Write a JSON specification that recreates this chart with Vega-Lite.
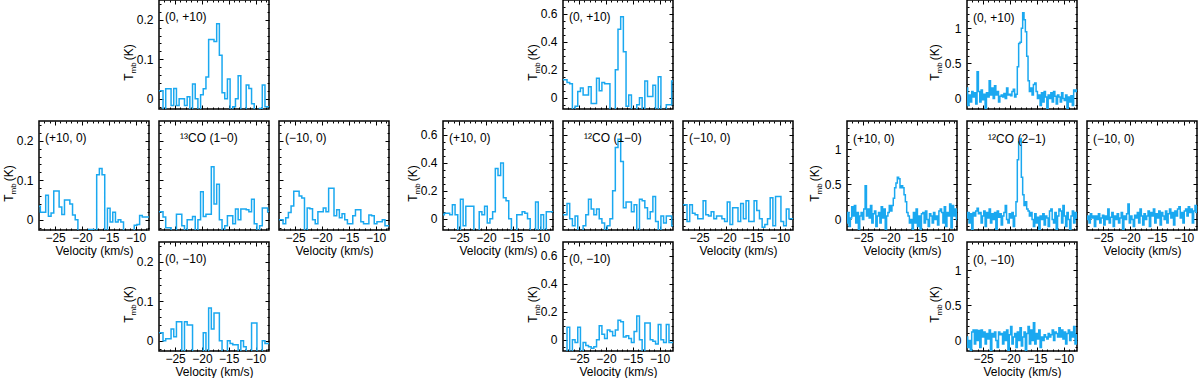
{
"$schema":"https://vega.github.io/schema/vega-lite/v6.json",
"padding":{"left":1,"top":-2,"right":0,"bottom":0},
"config":{"view":{"stroke":"black","strokeWidth":1.5},
"axis":{"grid":false,"domain":false,"tickColor":"black","tickWidth":1,"labelFont":"Liberation Sans","labelFontSize":12,"labelColor":"black","titleFont":"Liberation Sans","titleFontSize":12,"titleFontWeight":"normal","titleColor":"black","labelFlush":false,"labelOverlap":false},
"text":{"font":"Liberation Sans","fontSize":12,"color":"black"}},
"datasets":{
"a1":[{"v":-28,"t":0.02},{"v":-27.5,"t":0.02},{"v":-27,"t":-0.04},{"v":-26.5,"t":0.025},{"v":-26,"t":0.025},{"v":-25.5,"t":-0.017},{"v":-25,"t":0.026},{"v":-24.5,"t":-0.017},{"v":-24,"t":0},{"v":-23.5,"t":0},{"v":-23,"t":-0.017},{"v":-22.5,"t":0.005},{"v":-22,"t":-0.04},{"v":-21.5,"t":0.037},{"v":-21,"t":0},{"v":-20.5,"t":-0.04},{"v":-20,"t":0.01},{"v":-19.5,"t":0.025},{"v":-19,"t":0.055},{"v":-18.5,"t":0.15},{"v":-18,"t":0.15},{"v":-17.5,"t":0.145},{"v":-17,"t":0.19},{"v":-16.5,"t":0.11},{"v":-16,"t":0.015},{"v":-15.5,"t":0},{"v":-15,"t":0.05},{"v":-14.5,"t":-0.04},{"v":-14,"t":-0.02},{"v":-13.5,"t":0},{"v":-13,"t":0.058},{"v":-12.5,"t":-0.04},{"v":-12,"t":-0.04},{"v":-11.5,"t":0.035},{"v":-11,"t":0.026},{"v":-10.5,"t":-0.013},{"v":-10,"t":-0.04},{"v":-9.5,"t":-0.04},{"v":-9,"t":-0.025},{"v":-8.5,"t":0.035},{"v":-8,"t":-0.02},{"v":-7.5,"t":-0.02}],
"a2":[{"v":-28,"t":0.034},{"v":-27.5,"t":0.019},{"v":-27,"t":0.019},{"v":-26.5,"t":0.062},{"v":-26,"t":0.009},{"v":-25.5,"t":0.017},{"v":-25,"t":0.073},{"v":-24.5,"t":0.073},{"v":-24,"t":0.032},{"v":-23.5,"t":0.013},{"v":-23,"t":0.05},{"v":-22.5,"t":0.05},{"v":-22,"t":0.04},{"v":-21.5,"t":0.012},{"v":-21,"t":0},{"v":-20.5,"t":-0.04},{"v":-20,"t":-0.04},{"v":-19.5,"t":-0.04},{"v":-19,"t":-0.04},{"v":-18.5,"t":-0.025},{"v":-18,"t":-0.025},{"v":-17.5,"t":-0.04},{"v":-17,"t":0.114},{"v":-16.5,"t":0.13},{"v":-16,"t":0.114},{"v":-15.5,"t":-0.04},{"v":-15,"t":0.029},{"v":-14.5,"t":-0.006},{"v":-14,"t":0.019},{"v":-13.5,"t":-0.006},{"v":-13,"t":0},{"v":-12.5,"t":-0.006},{"v":-12,"t":-0.04},{"v":-11.5,"t":-0.04},{"v":-11,"t":-0.04},{"v":-10.5,"t":-0.04},{"v":-10,"t":-0.014},{"v":-9.5,"t":-0.012},{"v":-9,"t":0.011},{"v":-8.5,"t":0.007},{"v":-8,"t":0.007},{"v":-7.5,"t":0.007}],
"a3":[{"v":-28,"t":0.02},{"v":-27.5,"t":0.02},{"v":-27,"t":0.007},{"v":-26.5,"t":-0.02},{"v":-26,"t":-0.02},{"v":-25.5,"t":-0.04},{"v":-25,"t":-0.04},{"v":-24.5,"t":0.014},{"v":-24,"t":0.014},{"v":-23.5,"t":-0.015},{"v":-23,"t":-0.04},{"v":-22.5,"t":0},{"v":-22,"t":0},{"v":-21.5,"t":0.008},{"v":-21,"t":-0.04},{"v":-20.5,"t":0},{"v":-20,"t":0.071},{"v":-19.5,"t":0.008},{"v":-19,"t":0.014},{"v":-18.5,"t":0.014},{"v":-18,"t":0.134},{"v":-17.5,"t":0.04},{"v":-17,"t":0.09},{"v":-16.5,"t":0},{"v":-16,"t":-0.04},{"v":-15.5,"t":-0.015},{"v":-15,"t":0.01},{"v":-14.5,"t":0.01},{"v":-14,"t":-0.01},{"v":-13.5,"t":0.027},{"v":-13,"t":0},{"v":-12.5,"t":0.027},{"v":-12,"t":0.027},{"v":-11.5,"t":0.025},{"v":-11,"t":0.02},{"v":-10.5,"t":0.052},{"v":-10,"t":-0.01},{"v":-9.5,"t":-0.04},{"v":-9,"t":-0.015},{"v":-8.5,"t":0.03},{"v":-8,"t":0.03},{"v":-7.5,"t":0.02}],
"a4":[{"v":-28,"t":0},{"v":-27.5,"t":0},{"v":-27,"t":-0.01},{"v":-26.5,"t":0.005},{"v":-26,"t":0.018},{"v":-25.5,"t":0.035},{"v":-25,"t":0.072},{"v":-24.5,"t":0.072},{"v":-24,"t":0.06},{"v":-23.5,"t":0.055},{"v":-23,"t":-0.04},{"v":-22.5,"t":0.03},{"v":-22,"t":0.028},{"v":-21.5,"t":0},{"v":-21,"t":-0.01},{"v":-20.5,"t":0.02},{"v":-20,"t":0.02},{"v":-19.5,"t":0.03},{"v":-19,"t":0.02},{"v":-18.5,"t":0.08},{"v":-18,"t":0.08},{"v":-17.5,"t":0.01},{"v":-17,"t":0.025},{"v":-16.5,"t":0.005},{"v":-16,"t":0.015},{"v":-15.5,"t":0},{"v":-15,"t":-0.01},{"v":-14.5,"t":-0.01},{"v":-14,"t":0.01},{"v":-13.5,"t":0.025},{"v":-13,"t":0.025},{"v":-12.5,"t":-0.005},{"v":-12,"t":-0.01},{"v":-11.5,"t":-0.01},{"v":-11,"t":0.012},{"v":-10.5,"t":0.01},{"v":-10,"t":-0.01},{"v":-9.5,"t":-0.005},{"v":-9,"t":-0.005},{"v":-8.5,"t":0},{"v":-8,"t":-0.015},{"v":-7.5,"t":-0.015}],
"a5":[{"v":-28,"t":0.02},{"v":-27.5,"t":0.02},{"v":-27,"t":0},{"v":-26.5,"t":0.005},{"v":-26,"t":0.005},{"v":-25.5,"t":0.03},{"v":-25,"t":0.01},{"v":-24.5,"t":0.048},{"v":-24,"t":0.048},{"v":-23.5,"t":-0.04},{"v":-23,"t":0.048},{"v":-22.5,"t":0.04},{"v":-22,"t":0.04},{"v":-21.5,"t":-0.04},{"v":-21,"t":-0.04},{"v":-20.5,"t":-0.04},{"v":-20,"t":-0.04},{"v":-19.5,"t":0.02},{"v":-19,"t":-0.04},{"v":-18.5,"t":0.083},{"v":-18,"t":0.03},{"v":-17.5,"t":0.07},{"v":-17,"t":0.07},{"v":-16.5,"t":0},{"v":-16,"t":-0.04},{"v":-15.5,"t":-0.04},{"v":-15,"t":0},{"v":-14.5,"t":-0.007},{"v":-14,"t":-0.01},{"v":-13.5,"t":-0.01},{"v":-13,"t":-0.04},{"v":-12.5,"t":0},{"v":-12,"t":-0.015},{"v":-11.5,"t":-0.04},{"v":-11,"t":-0.04},{"v":-10.5,"t":0.045},{"v":-10,"t":0.045},{"v":-9.5,"t":-0.04},{"v":-9,"t":-0.04},{"v":-8.5,"t":0},{"v":-8,"t":-0.007},{"v":-7.5,"t":-0.007}],
"b1":[{"v":-28,"t":0.13},{"v":-27.5,"t":0.13},{"v":-27,"t":0.11},{"v":-26.5,"t":0.1},{"v":-26,"t":-0.1},{"v":-25.5,"t":-0.06},{"v":-25,"t":0.045},{"v":-24.5,"t":0.07},{"v":-24,"t":0.02},{"v":-23.5,"t":0.02},{"v":-23,"t":0.08},{"v":-22.5,"t":-0.04},{"v":-22,"t":-0.04},{"v":-21.5,"t":0.14},{"v":-21,"t":0.05},{"v":-20.5,"t":0.11},{"v":-20,"t":0.1},{"v":-19.5,"t":0.1},{"v":-19,"t":-0.1},{"v":-18.5,"t":-0.1},{"v":-18,"t":0.2},{"v":-17.5,"t":0.49},{"v":-17,"t":0.58},{"v":-16.5,"t":0.33},{"v":-16,"t":-0.06},{"v":-15.5,"t":0.02},{"v":-15,"t":-0.1},{"v":-14.5,"t":-0.1},{"v":-14,"t":-0.05},{"v":-13.5,"t":0},{"v":-13,"t":-0.1},{"v":-12.5,"t":0.12},{"v":-12,"t":0.01},{"v":-11.5,"t":0.01},{"v":-11,"t":0.09},{"v":-10.5,"t":-0.1},{"v":-10,"t":0.15},{"v":-9.5,"t":-0.1},{"v":-9,"t":-0.1},{"v":-8.5,"t":-0.05},{"v":-8,"t":-0.05},{"v":-7.5,"t":0.12}],
"b2":[{"v":-28,"t":0.03},{"v":-27.5,"t":0.04},{"v":-27,"t":0.04},{"v":-26.5,"t":0.03},{"v":-26,"t":0.1},{"v":-25.5,"t":0.03},{"v":-25,"t":-0.1},{"v":-24.5,"t":0.14},{"v":-24,"t":-0.05},{"v":-23.5,"t":0.09},{"v":-23,"t":0.09},{"v":-22.5,"t":0.09},{"v":-22,"t":-0.1},{"v":-21.5,"t":-0.1},{"v":-21,"t":0.05},{"v":-20.5,"t":0.03},{"v":-20,"t":0.09},{"v":-19.5,"t":-0.03},{"v":-19,"t":0},{"v":-18.5,"t":0.05},{"v":-18,"t":0.36},{"v":-17.5,"t":0.31},{"v":-17,"t":0.4},{"v":-16.5,"t":0.15},{"v":-16,"t":0.13},{"v":-15.5,"t":0},{"v":-15,"t":-0.1},{"v":-14.5,"t":-0.1},{"v":-14,"t":0.03},{"v":-13.5,"t":0.03},{"v":-13,"t":0.05},{"v":-12.5,"t":0.04},{"v":-12,"t":0},{"v":-11.5,"t":-0.1},{"v":-11,"t":-0.1},{"v":-10.5,"t":0.12},{"v":-10,"t":-0.1},{"v":-9.5,"t":0.03},{"v":-9,"t":-0.1},{"v":-8.5,"t":0.05},{"v":-8,"t":0.05},{"v":-7.5,"t":0.05}],
"b3":[{"v":-28,"t":0.03},{"v":-27.5,"t":0.03},{"v":-27,"t":0.11},{"v":-26.5,"t":0},{"v":-26,"t":-0.05},{"v":-25.5,"t":0.02},{"v":-25,"t":-0.1},{"v":-24.5,"t":-0.1},{"v":-24,"t":-0.05},{"v":-23.5,"t":0.03},{"v":-23,"t":0.14},{"v":-22.5,"t":0.07},{"v":-22,"t":0.03},{"v":-21.5,"t":0.07},{"v":-21,"t":0},{"v":-20.5,"t":-0.03},{"v":-20,"t":-0.1},{"v":-19.5,"t":-0.05},{"v":-19,"t":0},{"v":-18.5,"t":0.2},{"v":-18,"t":0.51},{"v":-17.5,"t":0.57},{"v":-17,"t":0.41},{"v":-16.5,"t":0.08},{"v":-16,"t":0.12},{"v":-15.5,"t":0.12},{"v":-15,"t":0.05},{"v":-14.5,"t":0.1},{"v":-14,"t":-0.1},{"v":-13.5,"t":0.14},{"v":-13,"t":0.13},{"v":-12.5,"t":0.08},{"v":-12,"t":0},{"v":-11.5,"t":0.05},{"v":-11,"t":0.16},{"v":-10.5,"t":-0.02},{"v":-10,"t":-0.1},{"v":-9.5,"t":0.02},{"v":-9,"t":-0.03},{"v":-8.5,"t":0.02},{"v":-8,"t":0.02},{"v":-7.5,"t":-0.05}],
"b4":[{"v":-28,"t":0.1},{"v":-27.5,"t":0.1},{"v":-27,"t":-0.02},{"v":-26.5,"t":0.1},{"v":-26,"t":0.04},{"v":-25.5,"t":0.03},{"v":-25,"t":0},{"v":-24.5,"t":0},{"v":-24,"t":0.13},{"v":-23.5,"t":0.03},{"v":-23,"t":0.02},{"v":-22.5,"t":0.05},{"v":-22,"t":0},{"v":-21.5,"t":0.02},{"v":-21,"t":0.02},{"v":-20.5,"t":0},{"v":-20,"t":-0.02},{"v":-19.5,"t":0.12},{"v":-19,"t":-0.04},{"v":-18.5,"t":0.08},{"v":-18,"t":0.08},{"v":-17.5,"t":-0.02},{"v":-17,"t":0.11},{"v":-16.5,"t":0},{"v":-16,"t":0.13},{"v":-15.5,"t":-0.02},{"v":-15,"t":-0.02},{"v":-14.5,"t":0.13},{"v":-14,"t":0.06},{"v":-13.5,"t":0},{"v":-13,"t":-0.06},{"v":-12.5,"t":-0.04},{"v":-12,"t":0},{"v":-11.5,"t":0.15},{"v":-11,"t":-0.05},{"v":-10.5,"t":0.16},{"v":-10,"t":0.16},{"v":-9.5,"t":-0.02},{"v":-9,"t":-0.05},{"v":-8.5,"t":0.07},{"v":-8,"t":0},{"v":-7.5,"t":0}],
"b5":[{"v":-28,"t":-0.1},{"v":-27.5,"t":-0.1},{"v":-27,"t":0.09},{"v":-26.5,"t":-0.1},{"v":-26,"t":0},{"v":-25.5,"t":-0.02},{"v":-25,"t":0.09},{"v":-24.5,"t":-0.1},{"v":-24,"t":-0.02},{"v":-23.5,"t":-0.04},{"v":-23,"t":-0.05},{"v":-22.5,"t":-0.06},{"v":-22,"t":-0.05},{"v":-21.5,"t":0},{"v":-21,"t":0.1},{"v":-20.5,"t":0.04},{"v":-20,"t":0.01},{"v":-19.5,"t":0.07},{"v":-19,"t":0.06},{"v":-18.5,"t":0.03},{"v":-18,"t":0.07},{"v":-17.5,"t":0.14},{"v":-17,"t":0.13},{"v":-16.5,"t":0.02},{"v":-16,"t":0.03},{"v":-15.5,"t":0.01},{"v":-15,"t":-0.02},{"v":-14.5,"t":0.06},{"v":-14,"t":0.17},{"v":-13.5,"t":0},{"v":-13,"t":-0.1},{"v":-12.5,"t":0.12},{"v":-12,"t":0.12},{"v":-11.5,"t":0},{"v":-11,"t":-0.01},{"v":-10.5,"t":-0.03},{"v":-10,"t":0.11},{"v":-9.5,"t":0},{"v":-9,"t":-0.02},{"v":-8.5,"t":0.11},{"v":-8,"t":-0.02},{"v":-7.5,"t":-0.02}],
"c1":[{"v":-28,"t":0.15},{"v":-27.75,"t":-0.1},{"v":-27.5,"t":0.05},{"v":-27.25,"t":-0.05},{"v":-27,"t":0.1},{"v":-26.75,"t":0.02},{"v":-26.5,"t":0.08},{"v":-26.25,"t":-0.08},{"v":-26,"t":0.38},{"v":-25.75,"t":0.1},{"v":-25.5,"t":-0.05},{"v":-25.25,"t":0.12},{"v":-25,"t":-0.02},{"v":-24.75,"t":0.06},{"v":-24.5,"t":-0.2},{"v":-24.25,"t":0.08},{"v":-24,"t":0.02},{"v":-23.75,"t":0.25},{"v":-23.5,"t":0.05},{"v":-23.25,"t":0.15},{"v":-23,"t":0},{"v":-22.75,"t":0.18},{"v":-22.5,"t":0.05},{"v":-22.25,"t":0.1},{"v":-22,"t":-0.05},{"v":-21.75,"t":0.03},{"v":-21.5,"t":0.05},{"v":-21.25,"t":0.02},{"v":-21,"t":0.07},{"v":-20.75,"t":0},{"v":-20.5,"t":0.15},{"v":-20.25,"t":0.05},{"v":-20,"t":0.06},{"v":-19.75,"t":0.04},{"v":-19.5,"t":0.1},{"v":-19.25,"t":0.13},{"v":-19,"t":0.02},{"v":-18.75,"t":0.06},{"v":-18.5,"t":0.45},{"v":-18.25,"t":0.78},{"v":-18,"t":0.8},{"v":-17.75,"t":1.0},{"v":-17.5,"t":1.22},{"v":-17.25,"t":1.12},{"v":-17,"t":0.95},{"v":-16.75,"t":0.6},{"v":-16.5,"t":0.25},{"v":-16.25,"t":0.1},{"v":-16,"t":0.15},{"v":-15.75,"t":0.05},{"v":-15.5,"t":0.2},{"v":-15.25,"t":0.22},{"v":-15,"t":0.1},{"v":-14.75,"t":0},{"v":-14.5,"t":0.05},{"v":-14.25,"t":-0.1},{"v":-14,"t":0.08},{"v":-13.75,"t":-0.05},{"v":-13.5,"t":0.1},{"v":-13.25,"t":0.02},{"v":-13,"t":-0.2},{"v":-12.75,"t":0.05},{"v":-12.5,"t":0},{"v":-12.25,"t":0.08},{"v":-12,"t":-0.05},{"v":-11.75,"t":0.1},{"v":-11.5,"t":0.03},{"v":-11.25,"t":-0.08},{"v":-11,"t":0.05},{"v":-10.75,"t":0.02},{"v":-10.5,"t":-0.05},{"v":-10.25,"t":0.08},{"v":-10,"t":0},{"v":-9.75,"t":-0.03},{"v":-9.5,"t":0.05},{"v":-9.25,"t":-0.2},{"v":-9,"t":0.02},{"v":-8.75,"t":-0.05},{"v":-8.5,"t":0.04},{"v":-8.25,"t":-0.1},{"v":-8,"t":0.12},{"v":-7.75,"t":0.1},{"v":-7.5,"t":0.12}],
"c2":[{"v":-28,"t":-0.05},{"v":-27.75,"t":0.1},{"v":-27.5,"t":-0.1},{"v":-27.25,"t":0.02},{"v":-27,"t":0.18},{"v":-26.75,"t":0.05},{"v":-26.5,"t":0.2},{"v":-26.25,"t":-0.05},{"v":-26,"t":0.1},{"v":-25.75,"t":-0.2},{"v":-25.5,"t":0.05},{"v":-25.25,"t":0.1},{"v":-25,"t":0},{"v":-24.75,"t":0.15},{"v":-24.5,"t":0.48},{"v":-24.25,"t":0.05},{"v":-24,"t":0.15},{"v":-23.75,"t":0.02},{"v":-23.5,"t":0.2},{"v":-23.25,"t":-0.05},{"v":-23,"t":0.08},{"v":-22.75,"t":0.12},{"v":-22.5,"t":-0.1},{"v":-22.25,"t":0.05},{"v":-22,"t":0.1},{"v":-21.75,"t":-0.05},{"v":-21.5,"t":0.18},{"v":-21.25,"t":0.02},{"v":-21,"t":0.15},{"v":-20.75,"t":-0.2},{"v":-20.5,"t":0.05},{"v":-20.25,"t":0.1},{"v":-20,"t":0.2},{"v":-19.75,"t":0.12},{"v":-19.5,"t":0.2},{"v":-19.25,"t":0.3},{"v":-19,"t":0.45},{"v":-18.75,"t":0.52},{"v":-18.5,"t":0.6},{"v":-18.25,"t":0.58},{"v":-18,"t":0.45},{"v":-17.75,"t":0.48},{"v":-17.5,"t":0.45},{"v":-17.25,"t":0.35},{"v":-17,"t":0.25},{"v":-16.75,"t":0.1},{"v":-16.5,"t":0.05},{"v":-16.25,"t":-0.05},{"v":-16,"t":0},{"v":-15.75,"t":-0.2},{"v":-15.5,"t":0.1},{"v":-15.25,"t":-0.05},{"v":-15,"t":0.15},{"v":-14.75,"t":-0.1},{"v":-14.5,"t":0.05},{"v":-14.25,"t":-0.2},{"v":-14,"t":0.08},{"v":-13.75,"t":0.1},{"v":-13.5,"t":-0.05},{"v":-13.25,"t":0.12},{"v":-13,"t":0},{"v":-12.75,"t":-0.1},{"v":-12.5,"t":0.08},{"v":-12.25,"t":0.05},{"v":-12,"t":-0.05},{"v":-11.75,"t":0.1},{"v":-11.5,"t":0},{"v":-11.25,"t":0.05},{"v":-11,"t":-0.08},{"v":-10.75,"t":0.12},{"v":-10.5,"t":0.15},{"v":-10.25,"t":0.1},{"v":-10,"t":-0.05},{"v":-9.75,"t":0.18},{"v":-9.5,"t":-0.1},{"v":-9.25,"t":0.1},{"v":-9,"t":0.05},{"v":-8.75,"t":0.22},{"v":-8.5,"t":-0.12},{"v":-8.25,"t":0.2},{"v":-8,"t":0.05},{"v":-7.75,"t":0.15},{"v":-7.5,"t":0}],
"c3":[{"v":-28,"t":0.02},{"v":-27.75,"t":0.1},{"v":-27.5,"t":-0.05},{"v":-27.25,"t":0.08},{"v":-27,"t":-0.2},{"v":-26.75,"t":0.1},{"v":-26.5,"t":0.05},{"v":-26.25,"t":0.12},{"v":-26,"t":0.16},{"v":-25.75,"t":0.08},{"v":-25.5,"t":0.1},{"v":-25.25,"t":-0.05},{"v":-25,"t":0.05},{"v":-24.75,"t":0.12},{"v":-24.5,"t":-0.1},{"v":-24.25,"t":0.1},{"v":-24,"t":0.02},{"v":-23.75,"t":0.15},{"v":-23.5,"t":-0.05},{"v":-23.25,"t":0.08},{"v":-23,"t":0},{"v":-22.75,"t":0.1},{"v":-22.5,"t":-0.2},{"v":-22.25,"t":0.12},{"v":-22,"t":0.03},{"v":-21.75,"t":0.08},{"v":-21.5,"t":-0.08},{"v":-21.25,"t":0.05},{"v":-21,"t":0.1},{"v":-20.75,"t":0.2},{"v":-20.5,"t":0},{"v":-20.25,"t":-0.05},{"v":-20,"t":0.08},{"v":-19.75,"t":0.02},{"v":-19.5,"t":0.1},{"v":-19.25,"t":-0.1},{"v":-19,"t":0.05},{"v":-18.75,"t":0.25},{"v":-18.5,"t":0.85},{"v":-18.25,"t":1.1},{"v":-18,"t":1.15},{"v":-17.75,"t":0.6},{"v":-17.5,"t":0.35},{"v":-17.25,"t":0.2},{"v":-17,"t":0.25},{"v":-16.75,"t":0.15},{"v":-16.5,"t":0.12},{"v":-16.25,"t":0.05},{"v":-16,"t":0.1},{"v":-15.75,"t":0},{"v":-15.5,"t":-0.1},{"v":-15.25,"t":0.08},{"v":-15,"t":-0.05},{"v":-14.75,"t":0.03},{"v":-14.5,"t":-0.2},{"v":-14.25,"t":0.05},{"v":-14,"t":0},{"v":-13.75,"t":0.08},{"v":-13.5,"t":-0.08},{"v":-13.25,"t":0.05},{"v":-13,"t":0.02},{"v":-12.75,"t":-0.1},{"v":-12.5,"t":0.12},{"v":-12.25,"t":0.15},{"v":-12,"t":0},{"v":-11.75,"t":-0.05},{"v":-11.5,"t":0.1},{"v":-11.25,"t":-0.2},{"v":-11,"t":0.05},{"v":-10.75,"t":0.15},{"v":-10.5,"t":0.12},{"v":-10.25,"t":-0.05},{"v":-10,"t":0.2},{"v":-9.75,"t":0.05},{"v":-9.5,"t":-0.1},{"v":-9.25,"t":0.1},{"v":-9,"t":0},{"v":-8.75,"t":-0.2},{"v":-8.5,"t":0.05},{"v":-8.25,"t":0.12},{"v":-8,"t":-0.05},{"v":-7.75,"t":0.1},{"v":-7.5,"t":0.02}],
"c4":[{"v":-28,"t":0},{"v":-27.75,"t":0.05},{"v":-27.5,"t":-0.05},{"v":-27.25,"t":0.08},{"v":-27,"t":0.02},{"v":-26.75,"t":0.05},{"v":-26.5,"t":-0.1},{"v":-26.25,"t":0.05},{"v":-26,"t":0},{"v":-25.75,"t":0.08},{"v":-25.5,"t":-0.05},{"v":-25.25,"t":0.02},{"v":-25,"t":0.06},{"v":-24.75,"t":-0.08},{"v":-24.5,"t":0.05},{"v":-24.25,"t":0},{"v":-24,"t":0.15},{"v":-23.75,"t":-0.05},{"v":-23.5,"t":0.03},{"v":-23.25,"t":0.1},{"v":-23,"t":-0.1},{"v":-22.75,"t":0.05},{"v":-22.5,"t":0},{"v":-22.25,"t":0.08},{"v":-22,"t":-0.05},{"v":-21.75,"t":0.02},{"v":-21.5,"t":0.1},{"v":-21.25,"t":-0.2},{"v":-21,"t":0.05},{"v":-20.75,"t":0},{"v":-20.5,"t":0.08},{"v":-20.25,"t":0.22},{"v":-20,"t":-0.05},{"v":-19.75,"t":0.05},{"v":-19.5,"t":0},{"v":-19.25,"t":-0.1},{"v":-19,"t":0.06},{"v":-18.75,"t":0.02},{"v":-18.5,"t":0.1},{"v":-18.25,"t":-0.05},{"v":-18,"t":0.15},{"v":-17.75,"t":0.05},{"v":-17.5,"t":-0.08},{"v":-17.25,"t":0.08},{"v":-17,"t":0},{"v":-16.75,"t":0.05},{"v":-16.5,"t":0.12},{"v":-16.25,"t":-0.1},{"v":-16,"t":0.1},{"v":-15.75,"t":0.05},{"v":-15.5,"t":0.15},{"v":-15.25,"t":-0.05},{"v":-15,"t":0.08},{"v":-14.75,"t":0.02},{"v":-14.5,"t":0.12},{"v":-14.25,"t":-0.08},{"v":-14,"t":0.1},{"v":-13.75,"t":0.05},{"v":-13.5,"t":0},{"v":-13.25,"t":0.12},{"v":-13,"t":-0.05},{"v":-12.75,"t":0.08},{"v":-12.5,"t":0.15},{"v":-12.25,"t":0.02},{"v":-12,"t":0.1},{"v":-11.75,"t":-0.08},{"v":-11.5,"t":0.12},{"v":-11.25,"t":0.05},{"v":-11,"t":0.15},{"v":-10.75,"t":0.18},{"v":-10.5,"t":0.02},{"v":-10.25,"t":0.1},{"v":-10,"t":-0.05},{"v":-9.75,"t":0.12},{"v":-9.5,"t":0.15},{"v":-9.25,"t":0.05},{"v":-9,"t":0.18},{"v":-8.75,"t":0.1},{"v":-8.5,"t":0.15},{"v":-8.25,"t":-0.05},{"v":-8,"t":0.12},{"v":-7.75,"t":0.2},{"v":-7.5,"t":0.1}],
"c5":[{"v":-28,"t":0.05},{"v":-27.75,"t":-0.1},{"v":-27.5,"t":0},{"v":-27.25,"t":-0.2},{"v":-27,"t":0.12},{"v":-26.75,"t":0.15},{"v":-26.5,"t":-0.05},{"v":-26.25,"t":0.15},{"v":-26,"t":0},{"v":-25.75,"t":0.14},{"v":-25.5,"t":-0.1},{"v":-25.25,"t":0.15},{"v":-25,"t":0.05},{"v":-24.75,"t":0.12},{"v":-24.5,"t":-0.05},{"v":-24.25,"t":0.1},{"v":-24,"t":0.02},{"v":-23.75,"t":0.15},{"v":-23.5,"t":-0.2},{"v":-23.25,"t":0.1},{"v":-23,"t":0.05},{"v":-22.75,"t":0.12},{"v":-22.5,"t":0},{"v":-22.25,"t":-0.1},{"v":-22,"t":0.12},{"v":-21.75,"t":0.08},{"v":-21.5,"t":0.1},{"v":-21.25,"t":-0.05},{"v":-21,"t":0.12},{"v":-20.75,"t":0},{"v":-20.5,"t":0.15},{"v":-20.25,"t":-0.2},{"v":-20,"t":0.08},{"v":-19.75,"t":0.2},{"v":-19.5,"t":-0.05},{"v":-19.25,"t":0.05},{"v":-19,"t":0.1},{"v":-18.75,"t":-0.1},{"v":-18.5,"t":0.12},{"v":-18.25,"t":0},{"v":-18,"t":0.18},{"v":-17.75,"t":-0.08},{"v":-17.5,"t":0.05},{"v":-17.25,"t":0.12},{"v":-17,"t":-0.2},{"v":-16.75,"t":0.1},{"v":-16.5,"t":0.2},{"v":-16.25,"t":-0.05},{"v":-16,"t":0.15},{"v":-15.75,"t":0},{"v":-15.5,"t":0.25},{"v":-15.25,"t":-0.05},{"v":-15,"t":0.1},{"v":-14.75,"t":0.02},{"v":-14.5,"t":0.15},{"v":-14.25,"t":-0.1},{"v":-14,"t":0.05},{"v":-13.75,"t":0},{"v":-13.5,"t":0.08},{"v":-13.25,"t":0.05},{"v":-13,"t":0.02},{"v":-12.75,"t":0.1},{"v":-12.5,"t":0.05},{"v":-12.25,"t":0.08},{"v":-12,"t":0.15},{"v":-11.75,"t":0},{"v":-11.5,"t":0.12},{"v":-11.25,"t":0.1},{"v":-11,"t":0.05},{"v":-10.75,"t":0.18},{"v":-10.5,"t":0.05},{"v":-10.25,"t":0.15},{"v":-10,"t":0.02},{"v":-9.75,"t":0.12},{"v":-9.5,"t":-0.05},{"v":-9.25,"t":0.1},{"v":-9,"t":0.15},{"v":-8.75,"t":0},{"v":-8.5,"t":0.12},{"v":-8.25,"t":0.05},{"v":-8,"t":0.2},{"v":-7.75,"t":-0.05},{"v":-7.5,"t":0.08}]
},
"columns":11,
"spacing":{"row":12,"column":10},
"bounds":"flush",
"align":"each",
"concat":[
{"width":110,"height":109,"data":{"values":[]},"mark":"point","view":{"stroke":null}},
{"width":110,"height":109,"data":{"name":"a1"},"resolve":{"axis":{"x":"independent","y":"independent"}},"layer":[
{"mark":{"type":"line","interpolate":"step","color":"#1aa8f0","strokeWidth":1.5,"clip":true},"encoding":{
"x":{"field":"v","type":"quantitative","scale":{"domain":[-28,-7.5],"nice":false,"zero":false},"axis":{"orient":"bottom","values":[-25,-20,-15,-10],"tickSize":-4,"labels":false,"title":null}},
"y":{"field":"t","type":"quantitative","scale":{"domain":[-0.026,0.25],"nice":false,"zero":false},"axis":{"orient":"left","values":[0,0.1,0.2],"tickSize":-4,"labelPadding":10,"format":"~g","title":"T\u00a0\u00a0\u00a0\u00a0(K)","titleX":-27,"titleY":62,"titleBaseline":"alphabetic"}}}},
{"mark":{"type":"line","opacity":0},"encoding":{
"x":{"field":"v","type":"quantitative","axis":{"orient":"top","values":[-25,-20,-15,-10],"tickSize":-4,"labels":false,"title":null}},
"y":{"field":"t","type":"quantitative","axis":{"orient":"right","values":[0,0.1,0.2],"tickSize":-4,"labels":false,"title":null}}}},
{"mark":{"type":"line","opacity":0},"encoding":{
"x":{"field":"v","type":"quantitative","axis":{"orient":"bottom","values":[-27,-26,-24,-23,-22,-21,-19,-18,-17,-16,-14,-13,-12,-11,-9,-8],"tickSize":-2,"labels":false,"title":null}},
"y":{"field":"t","type":"quantitative","axis":{"orient":"left","values":[-0.02,0.02,0.04,0.06,0.08,0.12,0.14,0.16,0.18,0.22,0.24],"tickSize":-2,"labels":false,"title":"mb","titleFontSize":8,"titleX":-24,"titleY":67.4,"titleBaseline":"alphabetic"}}}},
{"data":{"values":[{"lab":"(0, +10)"}]},"mark":{"type":"text","align":"left","baseline":"middle"},"encoding":{
"x":{"datum":-26.9,"axis":{"orient":"top","values":[-27,-26,-24,-23,-22,-21,-19,-18,-17,-16,-14,-13,-12,-11,-9,-8],"tickSize":-2,"labels":false,"title":null}},
"y":{"datum":0.206,"axis":{"orient":"right","values":[-0.02,0.02,0.04,0.06,0.08,0.12,0.14,0.16,0.18,0.22,0.24],"tickSize":-2,"labels":false,"title":null}},
"text":{"field":"lab"}}}]},
{"width":110,"height":109,"data":{"values":[]},"mark":"point","view":{"stroke":null}},
{"width":34,"height":109,"data":{"values":[]},"mark":"point","view":{"stroke":null}},
{"width":110,"height":109,"data":{"values":[]},"mark":"point","view":{"stroke":null}},
{"width":110,"height":109,"data":{"name":"b1"},"resolve":{"axis":{"x":"independent","y":"independent"}},"layer":[
{"mark":{"type":"line","interpolate":"step","color":"#1aa8f0","strokeWidth":1.5,"clip":true},"encoding":{
"x":{"field":"v","type":"quantitative","scale":{"domain":[-28,-7.5],"nice":false,"zero":false},"axis":{"orient":"bottom","values":[-25,-20,-15,-10],"tickSize":-4,"labels":false,"title":null}},
"y":{"field":"t","type":"quantitative","scale":{"domain":[-0.08,0.7],"nice":false,"zero":false},"axis":{"orient":"left","values":[0,0.2,0.4,0.6],"tickSize":-4,"labelPadding":10,"format":"~g","title":"T\u00a0\u00a0\u00a0\u00a0(K)","titleX":-27,"titleY":62,"titleBaseline":"alphabetic"}}}},
{"mark":{"type":"line","opacity":0},"encoding":{
"x":{"field":"v","type":"quantitative","axis":{"orient":"top","values":[-25,-20,-15,-10],"tickSize":-4,"labels":false,"title":null}},
"y":{"field":"t","type":"quantitative","axis":{"orient":"right","values":[0,0.2,0.4,0.6],"tickSize":-4,"labels":false,"title":null}}}},
{"mark":{"type":"line","opacity":0},"encoding":{
"x":{"field":"v","type":"quantitative","axis":{"orient":"bottom","values":[-27,-26,-24,-23,-22,-21,-19,-18,-17,-16,-14,-13,-12,-11,-9,-8],"tickSize":-2,"labels":false,"title":null}},
"y":{"field":"t","type":"quantitative","axis":{"orient":"left","values":[-0.05,0.05,0.1,0.15,0.25,0.3,0.35,0.45,0.5,0.55,0.65],"tickSize":-2,"labels":false,"title":"mb","titleFontSize":8,"titleX":-24,"titleY":67.4,"titleBaseline":"alphabetic"}}}},
{"data":{"values":[{"lab":"(0, +10)"}]},"mark":{"type":"text","align":"left","baseline":"middle"},"encoding":{
"x":{"datum":-26.9,"axis":{"orient":"top","values":[-27,-26,-24,-23,-22,-21,-19,-18,-17,-16,-14,-13,-12,-11,-9,-8],"tickSize":-2,"labels":false,"title":null}},
"y":{"datum":0.575,"axis":{"orient":"right","values":[-0.05,0.05,0.1,0.15,0.25,0.3,0.35,0.45,0.5,0.55,0.65],"tickSize":-2,"labels":false,"title":null}},
"text":{"field":"lab"}}}]},
{"width":110,"height":109,"data":{"values":[]},"mark":"point","view":{"stroke":null}},
{"width":34,"height":109,"data":{"values":[]},"mark":"point","view":{"stroke":null}},
{"width":110,"height":109,"data":{"values":[]},"mark":"point","view":{"stroke":null}},
{"width":110,"height":109,"data":{"name":"c1"},"resolve":{"axis":{"x":"independent","y":"independent"}},"layer":[
{"mark":{"type":"line","interpolate":"step","color":"#1aa8f0","strokeWidth":1.5,"clip":true},"encoding":{
"x":{"field":"v","type":"quantitative","scale":{"domain":[-28,-7.5],"nice":false,"zero":false},"axis":{"orient":"bottom","values":[-25,-20,-15,-10],"tickSize":-4,"labels":false,"title":null}},
"y":{"field":"t","type":"quantitative","scale":{"domain":[-0.15,1.4],"nice":false,"zero":false},"axis":{"orient":"left","values":[0,0.5,1],"tickSize":-4,"labelPadding":10,"format":"~g","title":"T\u00a0\u00a0\u00a0\u00a0(K)","titleX":-29,"titleY":62,"titleBaseline":"alphabetic"}}}},
{"mark":{"type":"line","opacity":0},"encoding":{
"x":{"field":"v","type":"quantitative","axis":{"orient":"top","values":[-25,-20,-15,-10],"tickSize":-4,"labels":false,"title":null}},
"y":{"field":"t","type":"quantitative","axis":{"orient":"right","values":[0,0.5,1],"tickSize":-4,"labels":false,"title":null}}}},
{"mark":{"type":"line","opacity":0},"encoding":{
"x":{"field":"v","type":"quantitative","axis":{"orient":"bottom","values":[-27,-26,-24,-23,-22,-21,-19,-18,-17,-16,-14,-13,-12,-11,-9,-8],"tickSize":-2,"labels":false,"title":null}},
"y":{"field":"t","type":"quantitative","axis":{"orient":"left","values":[-0.1,0.1,0.2,0.3,0.4,0.6,0.7,0.8,0.9,1.1,1.2,1.3],"tickSize":-2,"labels":false,"title":"mb","titleFontSize":8,"titleX":-26,"titleY":67.4,"titleBaseline":"alphabetic"}}}},
{"data":{"values":[{"lab":"(0, +10)"}]},"mark":{"type":"text","align":"left","baseline":"middle"},"encoding":{
"x":{"datum":-26.9,"axis":{"orient":"top","values":[-27,-26,-24,-23,-22,-21,-19,-18,-17,-16,-14,-13,-12,-11,-9,-8],"tickSize":-2,"labels":false,"title":null}},
"y":{"datum":1.151,"axis":{"orient":"right","values":[-0.1,0.1,0.2,0.3,0.4,0.6,0.7,0.8,0.9,1.1,1.2,1.3],"tickSize":-2,"labels":false,"title":null}},
"text":{"field":"lab"}}}]},
{"width":110,"height":109,"data":{"values":[]},"mark":"point","view":{"stroke":null}},

{"width":110,"height":109,"data":{"name":"a2"},"resolve":{"axis":{"x":"independent","y":"independent"}},"layer":[
{"mark":{"type":"line","interpolate":"step","color":"#1aa8f0","strokeWidth":1.5,"clip":true},"encoding":{
"x":{"field":"v","type":"quantitative","scale":{"domain":[-28,-7.5],"nice":false,"zero":false},"axis":{"orient":"bottom","values":[-25,-20,-15,-10],"tickSize":-4,"labelPadding":6,"format":"~g","title":"Velocity (km/s)","titlePadding":2}},
"y":{"field":"t","type":"quantitative","scale":{"domain":[-0.026,0.25],"nice":false,"zero":false},"axis":{"orient":"left","values":[0,0.1,0.2],"tickSize":-4,"labelPadding":10,"format":"~g","title":"T\u00a0\u00a0\u00a0\u00a0(K)","titleX":-27,"titleY":62,"titleBaseline":"alphabetic"}}}},
{"mark":{"type":"line","opacity":0},"encoding":{
"x":{"field":"v","type":"quantitative","axis":{"orient":"top","values":[-25,-20,-15,-10],"tickSize":-4,"labels":false,"title":null}},
"y":{"field":"t","type":"quantitative","axis":{"orient":"right","values":[0,0.1,0.2],"tickSize":-4,"labels":false,"title":null}}}},
{"mark":{"type":"line","opacity":0},"encoding":{
"x":{"field":"v","type":"quantitative","axis":{"orient":"bottom","values":[-27,-26,-24,-23,-22,-21,-19,-18,-17,-16,-14,-13,-12,-11,-9,-8],"tickSize":-2,"labels":false,"title":null}},
"y":{"field":"t","type":"quantitative","axis":{"orient":"left","values":[-0.02,0.02,0.04,0.06,0.08,0.12,0.14,0.16,0.18,0.22,0.24],"tickSize":-2,"labels":false,"title":"mb","titleFontSize":8,"titleX":-24,"titleY":67.4,"titleBaseline":"alphabetic"}}}},
{"data":{"values":[{"lab":"(+10, 0)"}]},"mark":{"type":"text","align":"left","baseline":"middle"},"encoding":{
"x":{"datum":-26.9,"axis":{"orient":"top","values":[-27,-26,-24,-23,-22,-21,-19,-18,-17,-16,-14,-13,-12,-11,-9,-8],"tickSize":-2,"labels":false,"title":null}},
"y":{"datum":0.206,"axis":{"orient":"right","values":[-0.02,0.02,0.04,0.06,0.08,0.12,0.14,0.16,0.18,0.22,0.24],"tickSize":-2,"labels":false,"title":null}},
"text":{"field":"lab"}}}]},
{"width":110,"height":109,"data":{"name":"a3"},"resolve":{"axis":{"x":"independent","y":"independent"}},"layer":[
{"mark":{"type":"line","interpolate":"step","color":"#1aa8f0","strokeWidth":1.5,"clip":true},"encoding":{
"x":{"field":"v","type":"quantitative","scale":{"domain":[-28,-7.5],"nice":false,"zero":false},"axis":{"orient":"bottom","values":[-25,-20,-15,-10],"tickSize":-4,"labels":false,"title":null}},
"y":{"field":"t","type":"quantitative","scale":{"domain":[-0.026,0.25],"nice":false,"zero":false},"axis":{"orient":"left","values":[0,0.1,0.2],"tickSize":-4,"labels":false,"title":null}}}},
{"mark":{"type":"line","opacity":0},"encoding":{
"x":{"field":"v","type":"quantitative","axis":{"orient":"top","values":[-25,-20,-15,-10],"tickSize":-4,"labels":false,"title":null}},
"y":{"field":"t","type":"quantitative","axis":{"orient":"right","values":[0,0.1,0.2],"tickSize":-4,"labels":false,"title":null}}}},
{"mark":{"type":"line","opacity":0},"encoding":{
"x":{"field":"v","type":"quantitative","axis":{"orient":"bottom","values":[-27,-26,-24,-23,-22,-21,-19,-18,-17,-16,-14,-13,-12,-11,-9,-8],"tickSize":-2,"labels":false,"title":null}},
"y":{"field":"t","type":"quantitative","axis":{"orient":"left","values":[-0.02,0.02,0.04,0.06,0.08,0.12,0.14,0.16,0.18,0.22,0.24],"tickSize":-2,"labels":false,"title":null}}}},
{"data":{"values":[{"lab":"¹³CO (1−0)"}]},"mark":{"type":"text","align":"center","baseline":"middle"},"encoding":{
"x":{"datum":-18.7,"axis":{"orient":"top","values":[-27,-26,-24,-23,-22,-21,-19,-18,-17,-16,-14,-13,-12,-11,-9,-8],"tickSize":-2,"labels":false,"title":null}},
"y":{"datum":0.206,"axis":{"orient":"right","values":[-0.02,0.02,0.04,0.06,0.08,0.12,0.14,0.16,0.18,0.22,0.24],"tickSize":-2,"labels":false,"title":null}},
"text":{"field":"lab"}}}]},
{"width":110,"height":109,"data":{"name":"a4"},"resolve":{"axis":{"x":"independent","y":"independent"}},"layer":[
{"mark":{"type":"line","interpolate":"step","color":"#1aa8f0","strokeWidth":1.5,"clip":true},"encoding":{
"x":{"field":"v","type":"quantitative","scale":{"domain":[-28,-7.5],"nice":false,"zero":false},"axis":{"orient":"bottom","values":[-25,-20,-15,-10],"tickSize":-4,"labelPadding":6,"format":"~g","title":"Velocity (km/s)","titlePadding":2}},
"y":{"field":"t","type":"quantitative","scale":{"domain":[-0.026,0.25],"nice":false,"zero":false},"axis":{"orient":"left","values":[0,0.1,0.2],"tickSize":-4,"labels":false,"title":null}}}},
{"mark":{"type":"line","opacity":0},"encoding":{
"x":{"field":"v","type":"quantitative","axis":{"orient":"top","values":[-25,-20,-15,-10],"tickSize":-4,"labels":false,"title":null}},
"y":{"field":"t","type":"quantitative","axis":{"orient":"right","values":[0,0.1,0.2],"tickSize":-4,"labels":false,"title":null}}}},
{"mark":{"type":"line","opacity":0},"encoding":{
"x":{"field":"v","type":"quantitative","axis":{"orient":"bottom","values":[-27,-26,-24,-23,-22,-21,-19,-18,-17,-16,-14,-13,-12,-11,-9,-8],"tickSize":-2,"labels":false,"title":null}},
"y":{"field":"t","type":"quantitative","axis":{"orient":"left","values":[-0.02,0.02,0.04,0.06,0.08,0.12,0.14,0.16,0.18,0.22,0.24],"tickSize":-2,"labels":false,"title":null}}}},
{"data":{"values":[{"lab":"(−10, 0)"}]},"mark":{"type":"text","align":"left","baseline":"middle"},"encoding":{
"x":{"datum":-26.9,"axis":{"orient":"top","values":[-27,-26,-24,-23,-22,-21,-19,-18,-17,-16,-14,-13,-12,-11,-9,-8],"tickSize":-2,"labels":false,"title":null}},
"y":{"datum":0.206,"axis":{"orient":"right","values":[-0.02,0.02,0.04,0.06,0.08,0.12,0.14,0.16,0.18,0.22,0.24],"tickSize":-2,"labels":false,"title":null}},
"text":{"field":"lab"}}}]},
{"width":34,"height":109,"data":{"values":[]},"mark":"point","view":{"stroke":null}},
{"width":110,"height":109,"data":{"name":"b2"},"resolve":{"axis":{"x":"independent","y":"independent"}},"layer":[
{"mark":{"type":"line","interpolate":"step","color":"#1aa8f0","strokeWidth":1.5,"clip":true},"encoding":{
"x":{"field":"v","type":"quantitative","scale":{"domain":[-28,-7.5],"nice":false,"zero":false},"axis":{"orient":"bottom","values":[-25,-20,-15,-10],"tickSize":-4,"labelPadding":6,"format":"~g","title":"Velocity (km/s)","titlePadding":2}},
"y":{"field":"t","type":"quantitative","scale":{"domain":[-0.08,0.7],"nice":false,"zero":false},"axis":{"orient":"left","values":[0,0.2,0.4,0.6],"tickSize":-4,"labelPadding":10,"format":"~g","title":"T\u00a0\u00a0\u00a0\u00a0(K)","titleX":-27,"titleY":62,"titleBaseline":"alphabetic"}}}},
{"mark":{"type":"line","opacity":0},"encoding":{
"x":{"field":"v","type":"quantitative","axis":{"orient":"top","values":[-25,-20,-15,-10],"tickSize":-4,"labels":false,"title":null}},
"y":{"field":"t","type":"quantitative","axis":{"orient":"right","values":[0,0.2,0.4,0.6],"tickSize":-4,"labels":false,"title":null}}}},
{"mark":{"type":"line","opacity":0},"encoding":{
"x":{"field":"v","type":"quantitative","axis":{"orient":"bottom","values":[-27,-26,-24,-23,-22,-21,-19,-18,-17,-16,-14,-13,-12,-11,-9,-8],"tickSize":-2,"labels":false,"title":null}},
"y":{"field":"t","type":"quantitative","axis":{"orient":"left","values":[-0.05,0.05,0.1,0.15,0.25,0.3,0.35,0.45,0.5,0.55,0.65],"tickSize":-2,"labels":false,"title":"mb","titleFontSize":8,"titleX":-24,"titleY":67.4,"titleBaseline":"alphabetic"}}}},
{"data":{"values":[{"lab":"(+10, 0)"}]},"mark":{"type":"text","align":"left","baseline":"middle"},"encoding":{
"x":{"datum":-26.9,"axis":{"orient":"top","values":[-27,-26,-24,-23,-22,-21,-19,-18,-17,-16,-14,-13,-12,-11,-9,-8],"tickSize":-2,"labels":false,"title":null}},
"y":{"datum":0.575,"axis":{"orient":"right","values":[-0.05,0.05,0.1,0.15,0.25,0.3,0.35,0.45,0.5,0.55,0.65],"tickSize":-2,"labels":false,"title":null}},
"text":{"field":"lab"}}}]},
{"width":110,"height":109,"data":{"name":"b3"},"resolve":{"axis":{"x":"independent","y":"independent"}},"layer":[
{"mark":{"type":"line","interpolate":"step","color":"#1aa8f0","strokeWidth":1.5,"clip":true},"encoding":{
"x":{"field":"v","type":"quantitative","scale":{"domain":[-28,-7.5],"nice":false,"zero":false},"axis":{"orient":"bottom","values":[-25,-20,-15,-10],"tickSize":-4,"labels":false,"title":null}},
"y":{"field":"t","type":"quantitative","scale":{"domain":[-0.08,0.7],"nice":false,"zero":false},"axis":{"orient":"left","values":[0,0.2,0.4,0.6],"tickSize":-4,"labels":false,"title":null}}}},
{"mark":{"type":"line","opacity":0},"encoding":{
"x":{"field":"v","type":"quantitative","axis":{"orient":"top","values":[-25,-20,-15,-10],"tickSize":-4,"labels":false,"title":null}},
"y":{"field":"t","type":"quantitative","axis":{"orient":"right","values":[0,0.2,0.4,0.6],"tickSize":-4,"labels":false,"title":null}}}},
{"mark":{"type":"line","opacity":0},"encoding":{
"x":{"field":"v","type":"quantitative","axis":{"orient":"bottom","values":[-27,-26,-24,-23,-22,-21,-19,-18,-17,-16,-14,-13,-12,-11,-9,-8],"tickSize":-2,"labels":false,"title":null}},
"y":{"field":"t","type":"quantitative","axis":{"orient":"left","values":[-0.05,0.05,0.1,0.15,0.25,0.3,0.35,0.45,0.5,0.55,0.65],"tickSize":-2,"labels":false,"title":null}}}},
{"data":{"values":[{"lab":"¹²CO (1−0)"}]},"mark":{"type":"text","align":"center","baseline":"middle"},"encoding":{
"x":{"datum":-18.7,"axis":{"orient":"top","values":[-27,-26,-24,-23,-22,-21,-19,-18,-17,-16,-14,-13,-12,-11,-9,-8],"tickSize":-2,"labels":false,"title":null}},
"y":{"datum":0.575,"axis":{"orient":"right","values":[-0.05,0.05,0.1,0.15,0.25,0.3,0.35,0.45,0.5,0.55,0.65],"tickSize":-2,"labels":false,"title":null}},
"text":{"field":"lab"}}}]},
{"width":110,"height":109,"data":{"name":"b4"},"resolve":{"axis":{"x":"independent","y":"independent"}},"layer":[
{"mark":{"type":"line","interpolate":"step","color":"#1aa8f0","strokeWidth":1.5,"clip":true},"encoding":{
"x":{"field":"v","type":"quantitative","scale":{"domain":[-28,-7.5],"nice":false,"zero":false},"axis":{"orient":"bottom","values":[-25,-20,-15,-10],"tickSize":-4,"labelPadding":6,"format":"~g","title":"Velocity (km/s)","titlePadding":2}},
"y":{"field":"t","type":"quantitative","scale":{"domain":[-0.08,0.7],"nice":false,"zero":false},"axis":{"orient":"left","values":[0,0.2,0.4,0.6],"tickSize":-4,"labels":false,"title":null}}}},
{"mark":{"type":"line","opacity":0},"encoding":{
"x":{"field":"v","type":"quantitative","axis":{"orient":"top","values":[-25,-20,-15,-10],"tickSize":-4,"labels":false,"title":null}},
"y":{"field":"t","type":"quantitative","axis":{"orient":"right","values":[0,0.2,0.4,0.6],"tickSize":-4,"labels":false,"title":null}}}},
{"mark":{"type":"line","opacity":0},"encoding":{
"x":{"field":"v","type":"quantitative","axis":{"orient":"bottom","values":[-27,-26,-24,-23,-22,-21,-19,-18,-17,-16,-14,-13,-12,-11,-9,-8],"tickSize":-2,"labels":false,"title":null}},
"y":{"field":"t","type":"quantitative","axis":{"orient":"left","values":[-0.05,0.05,0.1,0.15,0.25,0.3,0.35,0.45,0.5,0.55,0.65],"tickSize":-2,"labels":false,"title":null}}}},
{"data":{"values":[{"lab":"(−10, 0)"}]},"mark":{"type":"text","align":"left","baseline":"middle"},"encoding":{
"x":{"datum":-26.9,"axis":{"orient":"top","values":[-27,-26,-24,-23,-22,-21,-19,-18,-17,-16,-14,-13,-12,-11,-9,-8],"tickSize":-2,"labels":false,"title":null}},
"y":{"datum":0.575,"axis":{"orient":"right","values":[-0.05,0.05,0.1,0.15,0.25,0.3,0.35,0.45,0.5,0.55,0.65],"tickSize":-2,"labels":false,"title":null}},
"text":{"field":"lab"}}}]},
{"width":34,"height":109,"data":{"values":[]},"mark":"point","view":{"stroke":null}},
{"width":110,"height":109,"data":{"name":"c2"},"resolve":{"axis":{"x":"independent","y":"independent"}},"layer":[
{"mark":{"type":"line","interpolate":"step","color":"#1aa8f0","strokeWidth":1.5,"clip":true},"encoding":{
"x":{"field":"v","type":"quantitative","scale":{"domain":[-28,-7.5],"nice":false,"zero":false},"axis":{"orient":"bottom","values":[-25,-20,-15,-10],"tickSize":-4,"labelPadding":6,"format":"~g","title":"Velocity (km/s)","titlePadding":2}},
"y":{"field":"t","type":"quantitative","scale":{"domain":[-0.15,1.4],"nice":false,"zero":false},"axis":{"orient":"left","values":[0,0.5,1],"tickSize":-4,"labelPadding":10,"format":"~g","title":"T\u00a0\u00a0\u00a0\u00a0(K)","titleX":-29,"titleY":62,"titleBaseline":"alphabetic"}}}},
{"mark":{"type":"line","opacity":0},"encoding":{
"x":{"field":"v","type":"quantitative","axis":{"orient":"top","values":[-25,-20,-15,-10],"tickSize":-4,"labels":false,"title":null}},
"y":{"field":"t","type":"quantitative","axis":{"orient":"right","values":[0,0.5,1],"tickSize":-4,"labels":false,"title":null}}}},
{"mark":{"type":"line","opacity":0},"encoding":{
"x":{"field":"v","type":"quantitative","axis":{"orient":"bottom","values":[-27,-26,-24,-23,-22,-21,-19,-18,-17,-16,-14,-13,-12,-11,-9,-8],"tickSize":-2,"labels":false,"title":null}},
"y":{"field":"t","type":"quantitative","axis":{"orient":"left","values":[-0.1,0.1,0.2,0.3,0.4,0.6,0.7,0.8,0.9,1.1,1.2,1.3],"tickSize":-2,"labels":false,"title":"mb","titleFontSize":8,"titleX":-26,"titleY":67.4,"titleBaseline":"alphabetic"}}}},
{"data":{"values":[{"lab":"(+10, 0)"}]},"mark":{"type":"text","align":"left","baseline":"middle"},"encoding":{
"x":{"datum":-26.9,"axis":{"orient":"top","values":[-27,-26,-24,-23,-22,-21,-19,-18,-17,-16,-14,-13,-12,-11,-9,-8],"tickSize":-2,"labels":false,"title":null}},
"y":{"datum":1.151,"axis":{"orient":"right","values":[-0.1,0.1,0.2,0.3,0.4,0.6,0.7,0.8,0.9,1.1,1.2,1.3],"tickSize":-2,"labels":false,"title":null}},
"text":{"field":"lab"}}}]},
{"width":110,"height":109,"data":{"name":"c3"},"resolve":{"axis":{"x":"independent","y":"independent"}},"layer":[
{"mark":{"type":"line","interpolate":"step","color":"#1aa8f0","strokeWidth":1.5,"clip":true},"encoding":{
"x":{"field":"v","type":"quantitative","scale":{"domain":[-28,-7.5],"nice":false,"zero":false},"axis":{"orient":"bottom","values":[-25,-20,-15,-10],"tickSize":-4,"labels":false,"title":null}},
"y":{"field":"t","type":"quantitative","scale":{"domain":[-0.15,1.4],"nice":false,"zero":false},"axis":{"orient":"left","values":[0,0.5,1],"tickSize":-4,"labels":false,"title":null}}}},
{"mark":{"type":"line","opacity":0},"encoding":{
"x":{"field":"v","type":"quantitative","axis":{"orient":"top","values":[-25,-20,-15,-10],"tickSize":-4,"labels":false,"title":null}},
"y":{"field":"t","type":"quantitative","axis":{"orient":"right","values":[0,0.5,1],"tickSize":-4,"labels":false,"title":null}}}},
{"mark":{"type":"line","opacity":0},"encoding":{
"x":{"field":"v","type":"quantitative","axis":{"orient":"bottom","values":[-27,-26,-24,-23,-22,-21,-19,-18,-17,-16,-14,-13,-12,-11,-9,-8],"tickSize":-2,"labels":false,"title":null}},
"y":{"field":"t","type":"quantitative","axis":{"orient":"left","values":[-0.1,0.1,0.2,0.3,0.4,0.6,0.7,0.8,0.9,1.1,1.2,1.3],"tickSize":-2,"labels":false,"title":null}}}},
{"data":{"values":[{"lab":"¹²CO (2−1)"}]},"mark":{"type":"text","align":"center","baseline":"middle"},"encoding":{
"x":{"datum":-18.7,"axis":{"orient":"top","values":[-27,-26,-24,-23,-22,-21,-19,-18,-17,-16,-14,-13,-12,-11,-9,-8],"tickSize":-2,"labels":false,"title":null}},
"y":{"datum":1.151,"axis":{"orient":"right","values":[-0.1,0.1,0.2,0.3,0.4,0.6,0.7,0.8,0.9,1.1,1.2,1.3],"tickSize":-2,"labels":false,"title":null}},
"text":{"field":"lab"}}}]},
{"width":110,"height":109,"data":{"name":"c4"},"resolve":{"axis":{"x":"independent","y":"independent"}},"layer":[
{"mark":{"type":"line","interpolate":"step","color":"#1aa8f0","strokeWidth":1.5,"clip":true},"encoding":{
"x":{"field":"v","type":"quantitative","scale":{"domain":[-28,-7.5],"nice":false,"zero":false},"axis":{"orient":"bottom","values":[-25,-20,-15,-10],"tickSize":-4,"labelPadding":6,"format":"~g","title":"Velocity (km/s)","titlePadding":2}},
"y":{"field":"t","type":"quantitative","scale":{"domain":[-0.15,1.4],"nice":false,"zero":false},"axis":{"orient":"left","values":[0,0.5,1],"tickSize":-4,"labels":false,"title":null}}}},
{"mark":{"type":"line","opacity":0},"encoding":{
"x":{"field":"v","type":"quantitative","axis":{"orient":"top","values":[-25,-20,-15,-10],"tickSize":-4,"labels":false,"title":null}},
"y":{"field":"t","type":"quantitative","axis":{"orient":"right","values":[0,0.5,1],"tickSize":-4,"labels":false,"title":null}}}},
{"mark":{"type":"line","opacity":0},"encoding":{
"x":{"field":"v","type":"quantitative","axis":{"orient":"bottom","values":[-27,-26,-24,-23,-22,-21,-19,-18,-17,-16,-14,-13,-12,-11,-9,-8],"tickSize":-2,"labels":false,"title":null}},
"y":{"field":"t","type":"quantitative","axis":{"orient":"left","values":[-0.1,0.1,0.2,0.3,0.4,0.6,0.7,0.8,0.9,1.1,1.2,1.3],"tickSize":-2,"labels":false,"title":null}}}},
{"data":{"values":[{"lab":"(−10, 0)"}]},"mark":{"type":"text","align":"left","baseline":"middle"},"encoding":{
"x":{"datum":-26.9,"axis":{"orient":"top","values":[-27,-26,-24,-23,-22,-21,-19,-18,-17,-16,-14,-13,-12,-11,-9,-8],"tickSize":-2,"labels":false,"title":null}},
"y":{"datum":1.151,"axis":{"orient":"right","values":[-0.1,0.1,0.2,0.3,0.4,0.6,0.7,0.8,0.9,1.1,1.2,1.3],"tickSize":-2,"labels":false,"title":null}},
"text":{"field":"lab"}}}]},

{"width":110,"height":109,"data":{"values":[]},"mark":"point","view":{"stroke":null}},
{"width":110,"height":109,"data":{"name":"a5"},"resolve":{"axis":{"x":"independent","y":"independent"}},"layer":[
{"mark":{"type":"line","interpolate":"step","color":"#1aa8f0","strokeWidth":1.5,"clip":true},"encoding":{
"x":{"field":"v","type":"quantitative","scale":{"domain":[-28,-7.5],"nice":false,"zero":false},"axis":{"orient":"bottom","values":[-25,-20,-15,-10],"tickSize":-4,"labelPadding":6,"format":"~g","title":"Velocity (km/s)","titlePadding":2}},
"y":{"field":"t","type":"quantitative","scale":{"domain":[-0.026,0.25],"nice":false,"zero":false},"axis":{"orient":"left","values":[0,0.1,0.2],"tickSize":-4,"labelPadding":10,"format":"~g","title":"T\u00a0\u00a0\u00a0\u00a0(K)","titleX":-27,"titleY":62,"titleBaseline":"alphabetic"}}}},
{"mark":{"type":"line","opacity":0},"encoding":{
"x":{"field":"v","type":"quantitative","axis":{"orient":"top","values":[-25,-20,-15,-10],"tickSize":-4,"labels":false,"title":null}},
"y":{"field":"t","type":"quantitative","axis":{"orient":"right","values":[0,0.1,0.2],"tickSize":-4,"labels":false,"title":null}}}},
{"mark":{"type":"line","opacity":0},"encoding":{
"x":{"field":"v","type":"quantitative","axis":{"orient":"bottom","values":[-27,-26,-24,-23,-22,-21,-19,-18,-17,-16,-14,-13,-12,-11,-9,-8],"tickSize":-2,"labels":false,"title":null}},
"y":{"field":"t","type":"quantitative","axis":{"orient":"left","values":[-0.02,0.02,0.04,0.06,0.08,0.12,0.14,0.16,0.18,0.22,0.24],"tickSize":-2,"labels":false,"title":"mb","titleFontSize":8,"titleX":-24,"titleY":67.4,"titleBaseline":"alphabetic"}}}},
{"data":{"values":[{"lab":"(0, −10)"}]},"mark":{"type":"text","align":"left","baseline":"middle"},"encoding":{
"x":{"datum":-26.9,"axis":{"orient":"top","values":[-27,-26,-24,-23,-22,-21,-19,-18,-17,-16,-14,-13,-12,-11,-9,-8],"tickSize":-2,"labels":false,"title":null}},
"y":{"datum":0.206,"axis":{"orient":"right","values":[-0.02,0.02,0.04,0.06,0.08,0.12,0.14,0.16,0.18,0.22,0.24],"tickSize":-2,"labels":false,"title":null}},
"text":{"field":"lab"}}}]},
{"width":110,"height":109,"data":{"values":[]},"mark":"point","view":{"stroke":null}},
{"width":34,"height":109,"data":{"values":[]},"mark":"point","view":{"stroke":null}},
{"width":110,"height":109,"data":{"values":[]},"mark":"point","view":{"stroke":null}},
{"width":110,"height":109,"data":{"name":"b5"},"resolve":{"axis":{"x":"independent","y":"independent"}},"layer":[
{"mark":{"type":"line","interpolate":"step","color":"#1aa8f0","strokeWidth":1.5,"clip":true},"encoding":{
"x":{"field":"v","type":"quantitative","scale":{"domain":[-28,-7.5],"nice":false,"zero":false},"axis":{"orient":"bottom","values":[-25,-20,-15,-10],"tickSize":-4,"labelPadding":6,"format":"~g","title":"Velocity (km/s)","titlePadding":2}},
"y":{"field":"t","type":"quantitative","scale":{"domain":[-0.08,0.7],"nice":false,"zero":false},"axis":{"orient":"left","values":[0,0.2,0.4,0.6],"tickSize":-4,"labelPadding":10,"format":"~g","title":"T\u00a0\u00a0\u00a0\u00a0(K)","titleX":-27,"titleY":62,"titleBaseline":"alphabetic"}}}},
{"mark":{"type":"line","opacity":0},"encoding":{
"x":{"field":"v","type":"quantitative","axis":{"orient":"top","values":[-25,-20,-15,-10],"tickSize":-4,"labels":false,"title":null}},
"y":{"field":"t","type":"quantitative","axis":{"orient":"right","values":[0,0.2,0.4,0.6],"tickSize":-4,"labels":false,"title":null}}}},
{"mark":{"type":"line","opacity":0},"encoding":{
"x":{"field":"v","type":"quantitative","axis":{"orient":"bottom","values":[-27,-26,-24,-23,-22,-21,-19,-18,-17,-16,-14,-13,-12,-11,-9,-8],"tickSize":-2,"labels":false,"title":null}},
"y":{"field":"t","type":"quantitative","axis":{"orient":"left","values":[-0.05,0.05,0.1,0.15,0.25,0.3,0.35,0.45,0.5,0.55,0.65],"tickSize":-2,"labels":false,"title":"mb","titleFontSize":8,"titleX":-24,"titleY":67.4,"titleBaseline":"alphabetic"}}}},
{"data":{"values":[{"lab":"(0, −10)"}]},"mark":{"type":"text","align":"left","baseline":"middle"},"encoding":{
"x":{"datum":-26.9,"axis":{"orient":"top","values":[-27,-26,-24,-23,-22,-21,-19,-18,-17,-16,-14,-13,-12,-11,-9,-8],"tickSize":-2,"labels":false,"title":null}},
"y":{"datum":0.575,"axis":{"orient":"right","values":[-0.05,0.05,0.1,0.15,0.25,0.3,0.35,0.45,0.5,0.55,0.65],"tickSize":-2,"labels":false,"title":null}},
"text":{"field":"lab"}}}]},
{"width":110,"height":109,"data":{"values":[]},"mark":"point","view":{"stroke":null}},
{"width":34,"height":109,"data":{"values":[]},"mark":"point","view":{"stroke":null}},
{"width":110,"height":109,"data":{"values":[]},"mark":"point","view":{"stroke":null}},
{"width":110,"height":109,"data":{"name":"c5"},"resolve":{"axis":{"x":"independent","y":"independent"}},"layer":[
{"mark":{"type":"line","interpolate":"step","color":"#1aa8f0","strokeWidth":1.5,"clip":true},"encoding":{
"x":{"field":"v","type":"quantitative","scale":{"domain":[-28,-7.5],"nice":false,"zero":false},"axis":{"orient":"bottom","values":[-25,-20,-15,-10],"tickSize":-4,"labelPadding":6,"format":"~g","title":"Velocity (km/s)","titlePadding":2}},
"y":{"field":"t","type":"quantitative","scale":{"domain":[-0.15,1.4],"nice":false,"zero":false},"axis":{"orient":"left","values":[0,0.5,1],"tickSize":-4,"labelPadding":10,"format":"~g","title":"T\u00a0\u00a0\u00a0\u00a0(K)","titleX":-29,"titleY":62,"titleBaseline":"alphabetic"}}}},
{"mark":{"type":"line","opacity":0},"encoding":{
"x":{"field":"v","type":"quantitative","axis":{"orient":"top","values":[-25,-20,-15,-10],"tickSize":-4,"labels":false,"title":null}},
"y":{"field":"t","type":"quantitative","axis":{"orient":"right","values":[0,0.5,1],"tickSize":-4,"labels":false,"title":null}}}},
{"mark":{"type":"line","opacity":0},"encoding":{
"x":{"field":"v","type":"quantitative","axis":{"orient":"bottom","values":[-27,-26,-24,-23,-22,-21,-19,-18,-17,-16,-14,-13,-12,-11,-9,-8],"tickSize":-2,"labels":false,"title":null}},
"y":{"field":"t","type":"quantitative","axis":{"orient":"left","values":[-0.1,0.1,0.2,0.3,0.4,0.6,0.7,0.8,0.9,1.1,1.2,1.3],"tickSize":-2,"labels":false,"title":"mb","titleFontSize":8,"titleX":-26,"titleY":67.4,"titleBaseline":"alphabetic"}}}},
{"data":{"values":[{"lab":"(0, −10)"}]},"mark":{"type":"text","align":"left","baseline":"middle"},"encoding":{
"x":{"datum":-26.9,"axis":{"orient":"top","values":[-27,-26,-24,-23,-22,-21,-19,-18,-17,-16,-14,-13,-12,-11,-9,-8],"tickSize":-2,"labels":false,"title":null}},
"y":{"datum":1.151,"axis":{"orient":"right","values":[-0.1,0.1,0.2,0.3,0.4,0.6,0.7,0.8,0.9,1.1,1.2,1.3],"tickSize":-2,"labels":false,"title":null}},
"text":{"field":"lab"}}}]},
{"width":110,"height":109,"data":{"values":[]},"mark":"point","view":{"stroke":null}}
]
}
